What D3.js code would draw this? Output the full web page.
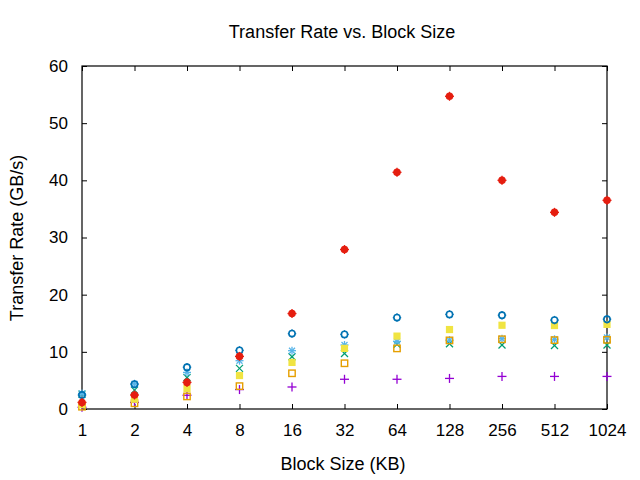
<!DOCTYPE html>
<html><head><meta charset="utf-8">
<script src="https://cdn.jsdelivr.net/npm/d3@7"></script>
<style>
body{margin:0;background:#fff;}
text{font-family:"Liberation Sans",Arial,sans-serif;fill:#000;}
</style></head>
<body><svg id="c" width="640" height="480"></svg>
<script>
const blockSizes = [1,2,4,8,16,32,64,128,256,512,1024];
const s1 = [0.3,1.15,2.4,3.4,3.85,5.2,5.2,5.35,5.7,5.7,5.7];
const s2 = [2.6,3.3,5.5,7.1,9.15,9.7,11.3,11.4,11.2,11.1,11.2];
const s3 = [2.7,4.4,6.4,8.45,10.2,11.2,11.8,12.05,12.3,12.2,12.5];
const s4 = [0.4,1.0,2.2,4.0,6.25,8.0,10.6,12.0,12.2,12.05,12.1];
const s5 = [0.75,1.7,3.6,5.85,8.15,10.6,12.75,13.9,14.65,14.6,14.8];
const s6 = [2.45,4.35,7.3,10.25,13.2,13.05,16.0,16.55,16.4,15.55,15.7];
const s7 = [1.15,2.45,4.65,9.2,16.7,27.9,41.4,54.7,40.0,34.4,36.5];
const yTicks = [0,10,20,30,40,50,60];
const seriesList = [
  {vals:s1, shape:"plus", color:"#9400d3"},
  {vals:s2, shape:"cross", color:"#009e73"},
  {vals:s3, shape:"star", color:"#56b4e9"},
  {vals:s4, shape:"osquare", color:"#e69f00"},
  {vals:s5, shape:"fsquare", color:"#f0e442"},
  {vals:s6, shape:"ocircle", color:"#0072b2"},
  {vals:s7, shape:"fcircle", color:"#e51e10"}
];
const L=82, R=607, T=66, B=409;
const svg = d3.select("#c");
const x = d3.scaleLog().base(2).domain([1,1024]).range([L,R]);
const y = d3.scaleLinear().domain([0,60]).range([B,T]);
const tk = 5;

const gx = svg.append("g").attr("transform",`translate(0,${B})`)
  .call(d3.axisBottom(x).tickValues(blockSizes).tickFormat(d3.format("d")).tickSizeInner(-tk).tickSizeOuter(0).tickPadding(15));
const gxt = svg.append("g").attr("transform",`translate(0,${T})`)
  .call(d3.axisTop(x).tickValues(blockSizes).tickFormat("").tickSizeInner(-tk).tickSizeOuter(0));
const gy = svg.append("g").attr("transform",`translate(${L},0)`)
  .call(d3.axisLeft(y).tickValues(yTicks).tickSizeInner(-tk).tickSizeOuter(0).tickPadding(14));
const gyr = svg.append("g").attr("transform",`translate(${R},0)`)
  .call(d3.axisRight(y).tickValues(yTicks).tickFormat("").tickSizeInner(-tk).tickSizeOuter(0));
[gx,gxt,gy,gyr].forEach(g=>{
  g.select(".domain").remove();
  g.selectAll("line").attr("stroke","#000");
  g.selectAll("text").attr("font-size",17).attr("font-family","Liberation Sans, Arial, sans-serif").attr("fill","#000");
});
svg.append("rect").attr("x",L).attr("y",T).attr("width",R-L).attr("height",B-T)
  .attr("fill","none").attr("stroke","#000").attr("stroke-width",1.2);

seriesList.forEach(s=>{
  const g = svg.append("g");
  s.vals.forEach((v,i)=>{
    const px = x(blockSizes[i]), py = y(v);
    const p = g.append("g").attr("transform",`translate(${px},${py})`);
    const line=(x1,y1,x2,y2)=>p.append("line").attr("x1",x1).attr("y1",y1).attr("x2",x2).attr("y2",y2)
      .attr("stroke",s.color).attr("stroke-width",1.3);
    if(s.shape==="plus"){line(-4.5,0,4.5,0);line(0,-4.5,0,4.5);}
    else if(s.shape==="cross"){line(-3.5,-3.5,3.5,3.5);line(-3.5,3.5,3.5,-3.5);}
    else if(s.shape==="star"){line(-4,0,4,0);line(0,-4,0,4);line(-3,-3,3,3);line(-3,3,3,-3);}
    else if(s.shape==="osquare"){p.append("rect").attr("x",-3.2).attr("y",-3.2).attr("width",6.4).attr("height",6.4).attr("fill","none").attr("stroke",s.color).attr("stroke-width",1.4);}
    else if(s.shape==="fsquare"){p.append("rect").attr("x",-3.6).attr("y",-3.6).attr("width",7.2).attr("height",7.2).attr("fill",s.color);}
    else if(s.shape==="ocircle"){p.append("circle").attr("r",3.1).attr("fill","none").attr("stroke",s.color).attr("stroke-width",1.6);
      line(-4.2,0,-3,0);line(3,0,4.2,0);line(0,-4.2,0,-3);line(0,3,0,4.2);}
    else if(s.shape==="fcircle"){p.append("circle").attr("r",3.8).attr("fill",s.color);
      line(-4.5,0,4.5,0);line(0,-4.5,0,4.5);}
  });
});

svg.append("text").attr("x",342).attr("y",38).attr("text-anchor","middle").attr("font-size",18).text("Transfer Rate vs. Block Size");
svg.append("text").attr("x",343).attr("y",470).attr("text-anchor","middle").attr("font-size",18).text("Block Size (KB)");
svg.append("text").attr("transform","translate(23,238) rotate(-90)").attr("text-anchor","middle").attr("font-size",18).text("Transfer Rate (GB/s)");
</script></body></html>
